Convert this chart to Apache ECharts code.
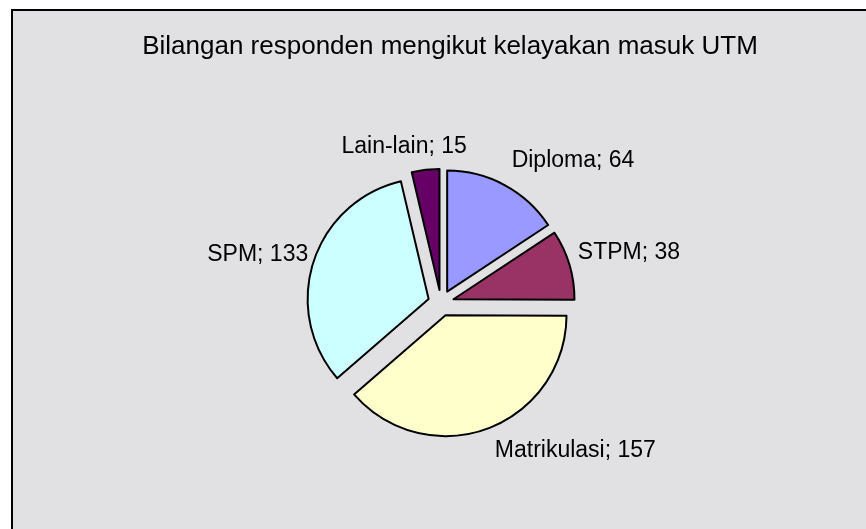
<!DOCTYPE html>
<html>
<head>
<meta charset="utf-8">
<script src="https://cdn.jsdelivr.net/npm/echarts@6/dist/echarts.min.js"></script>
<style>
  html, body { margin: 0; padding: 0; background: #ffffff; }
  #chart { width: 866px; height: 529px; }
</style>
</head>
<body>
<div id="chart"></div>
<script>
// ---- data ----
var titleText = 'Bilangan responden mengikut kelayakan masuk UTM';
var categories = ['Diploma', 'STPM', 'Matrikulasi', 'SPM', 'Lain-lain'];
var values = [64, 38, 157, 133, 15];

// ---- styles ----
var sliceColors = ['#9999ff', '#993366', '#ffffcc', '#ccffff', '#660066'];
var labelNudge = [[0, -11], [-6, -8], [2, 8], [9, -3], [43, -8]];

var chart = echarts.init(document.getElementById('chart'), null, { renderer: 'canvas' });

var seriesData = categories.map(function (name, i) {
  return {
    name: name,
    value: values[i],
    selected: true,
    itemStyle: { color: sliceColors[i] }
  };
});

chart.setOption({
  animation: false,
  backgroundColor: '#ffffff',
  graphic: [{
    type: 'rect',
    left: 11, top: 9,
    shape: { width: 880, height: 540 },
    style: { fill: '#e1e0e3', stroke: '#000000', lineWidth: 2 },
    silent: true,
    z: -10
  }],
  title: {
    text: titleText,
    left: 445,
    textAlign: 'center',
    top: 29,
    textStyle: {
      fontFamily: 'Liberation Sans, Arial, sans-serif',
      fontSize: 26,
      fontWeight: 'normal',
      color: '#000000'
    }
  },
  series: [{
    type: 'pie',
    center: [441, 303],
    radius: 121,
    startAngle: 90,
    clockwise: true,
    selectedMode: 'multiple',
    selectedOffset: 13,
    avoidLabelOverlap: false,
    itemStyle: { borderColor: '#000000', borderWidth: 2 },
    emphasis: { disabled: true, scale: false },
    select: { itemStyle: { borderColor: '#000000', borderWidth: 2 } },
    label: {
      show: true,
      position: 'outside',
      formatter: function (p) { return p.name + '; ' + p.value; },
      fontFamily: 'Liberation Sans, Arial, sans-serif',
      fontSize: 23,
      color: '#000000',
      distanceToLabelLine: 0
    },
    labelLine: { show: false, length: 15, length2: 0 },
    labelLayout: function (params) {
      var n = labelNudge[params.dataIndex];
      return { dx: n[0], dy: n[1] };
    },
    data: seriesData
  }]
});
</script>
</body>
</html>
